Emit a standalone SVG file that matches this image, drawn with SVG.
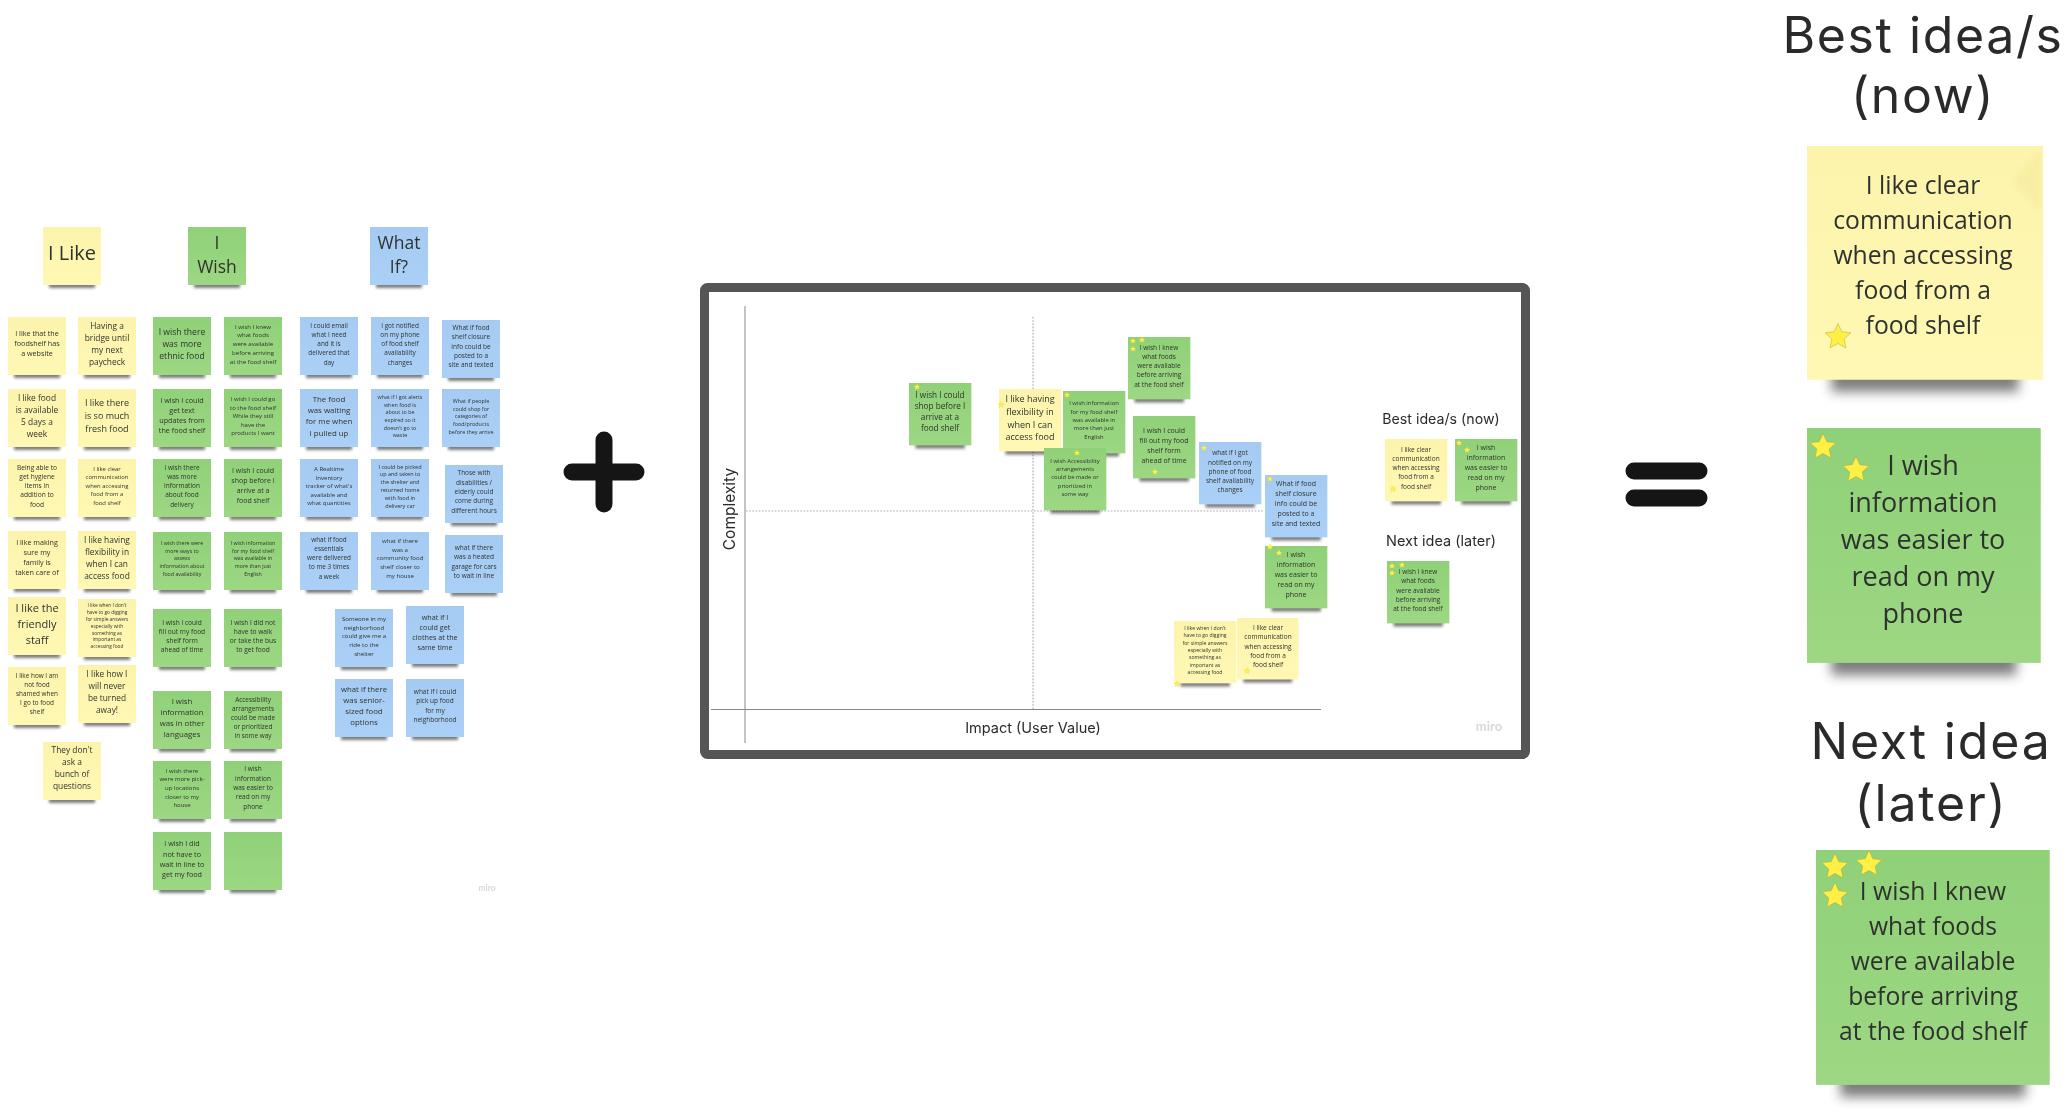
<svg xmlns="http://www.w3.org/2000/svg" width="2070" height="1114" viewBox="0 0 2070 1114">
<style>
text{font-family:"Open Sans","Liberation Sans",sans-serif;fill:#2f332f;text-anchor:middle}
.s{filter:url(#soft)}
.h{font-family:Inter,"Liberation Sans",sans-serif;fill:#2b2b2b;filter:url(#soft)}
.m{font-family:Lato,"Liberation Sans",sans-serif;font-weight:700;fill:#d8d8d8;filter:url(#soft)}
.sh{fill:#2e2e2e;opacity:.62;filter:url(#sb)}
.ax{stroke:#888;stroke-width:1;fill:none}
.dot{stroke:#a9a9b4;stroke-width:1.2;stroke-dasharray:1.6 1.6;fill:none}
.st{fill:#FFF045;stroke:#B5A63C;stroke-width:.15}
.sym{stroke:#151515;stroke-width:17;stroke-linecap:round;fill:none}
</style>
<defs>
<filter id="sb" x="-20%" y="-120%" width="140%" height="340%"><feGaussianBlur stdDeviation="1.5"/></filter>
<filter id="soft" x="-5%" y="-5%" width="110%" height="110%"><feGaussianBlur stdDeviation="0.3"/></filter>
<filter id="fold" x="-30%" y="-30%" width="160%" height="160%"><feGaussianBlur stdDeviation="3"/></filter>
<clipPath id="bigy"><rect width="236" height="234"/></clipPath>
<linearGradient id="gy" x1="0" y1="0" x2="0" y2="1"><stop offset="0" stop-color="#FCF4AC"/><stop offset="1" stop-color="#FFF8B4"/></linearGradient>
<linearGradient id="gg" x1="0" y1="0" x2="0" y2="1"><stop offset="0" stop-color="#8FD178"/><stop offset="1" stop-color="#9DD783"/></linearGradient>
<linearGradient id="gb" x1="0" y1="0" x2="0" y2="1"><stop offset="0" stop-color="#A5CBF3"/><stop offset="1" stop-color="#ABD0F7"/></linearGradient>
<g id="sy"><rect class="sh" x="6" y="54" width="46" height="7"/><rect width="58" height="58" fill="url(#gy)"/></g>
<g id="sg"><rect class="sh" x="6" y="54" width="46" height="7"/><rect width="58" height="58" fill="url(#gg)"/></g>
<g id="sb2"><rect class="sh" x="6" y="54" width="46" height="7"/><rect width="58" height="58" fill="url(#gb)"/></g>
<polygon id="star" class="st" points="0,-4 1.12,-1.54 3.8,-1.24 1.81,.59 2.35,3.24 0,1.9 -2.35,3.24 -1.81,.59 -3.8,-1.24 -1.12,-1.54"/>
</defs>
<rect width="2070" height="1114" fill="#fff"/>

<g id="like-head" transform="translate(43 227)"><use href="#sy"/><text class="s" x="29" y="33" font-size="20">I Like</text></g>
<g id="wish-head" transform="translate(188 227)"><use href="#sg"/><text class="s" x="29" y="22" font-size="17.5"><tspan x="29">I</tspan><tspan x="29" dy="23.5">Wish</tspan></text></g>
<g id="whatif-head" transform="translate(370 227)"><use href="#sb2"/><text class="s" x="29" y="22" font-size="17.5"><tspan x="29">What</tspan><tspan x="29" dy="23.5">If?</tspan></text></g>

<g id="like-1" transform="translate(8 317)"><use href="#sy"/><text class="s" y="19.4" font-size="7.2"><tspan x="29">I like that the</tspan><tspan x="29" dy="10">foodshelf has</tspan><tspan x="29" dy="10">a website</tspan></text></g>
<g id="like-2" transform="translate(78 317)"><use href="#sy"/><text class="s" y="11.8" font-size="8.4"><tspan x="29">Having a</tspan><tspan x="29" dy="12">bridge until</tspan><tspan x="29" dy="12">my next</tspan><tspan x="29" dy="12">paycheck</tspan></text></g>
<g id="like-3" transform="translate(8 389)"><use href="#sy"/><text class="s" y="11.5" font-size="8.4"><tspan x="29">I like food</tspan><tspan x="29" dy="12">is available</tspan><tspan x="29" dy="12">5 days a</tspan><tspan x="29" dy="12">week</tspan></text></g>
<g id="like-4" transform="translate(78 389)"><use href="#sy"/><text class="s" y="17.3" font-size="9"><tspan x="29">I like there</tspan><tspan x="29" dy="12.7">is so much</tspan><tspan x="29" dy="12.7">fresh food</tspan></text></g>
<g id="like-5" transform="translate(8 459)"><use href="#sy"/><text class="s" y="10.5" font-size="6.6"><tspan x="29">Being able to</tspan><tspan x="29" dy="9.3">get hygiene</tspan><tspan x="29" dy="9.3">items in</tspan><tspan x="29" dy="9.3">addition to</tspan><tspan x="29" dy="9.3">food</tspan></text></g>
<g id="like-6" transform="translate(78 459)"><use href="#sy"/><text class="s" y="12" font-size="5.9"><tspan x="29">I like clear</tspan><tspan x="29" dy="8.4">communication</tspan><tspan x="29" dy="8.4">when accessing</tspan><tspan x="29" dy="8.4">food from a</tspan><tspan x="29" dy="8.4">food shelf</tspan></text></g>
<g id="like-7" transform="translate(8 531)"><use href="#sy"/><text class="s" y="14.4" font-size="7.2"><tspan x="29">I like making</tspan><tspan x="29" dy="10">sure my</tspan><tspan x="29" dy="10">family is</tspan><tspan x="29" dy="10">taken care of</tspan></text></g>
<g id="like-8" transform="translate(78 531)"><use href="#sy"/><text class="s" y="12.1" font-size="8.4"><tspan x="29">I like having</tspan><tspan x="29" dy="12">flexibility in</tspan><tspan x="29" dy="12">when I can</tspan><tspan x="29" dy="12">access food</tspan></text></g>
<g id="like-9" transform="translate(8 597)"><use href="#sy"/><text class="s" y="15" font-size="11"><tspan x="29">I like the</tspan><tspan x="29" dy="15.8">friendly</tspan><tspan x="29" dy="15.8">staff</tspan></text></g>
<g id="like-10" transform="translate(78 599)"><use href="#sy"/><text class="s" y="8.3" font-size="4.8"><tspan x="29">I like when I don't</tspan><tspan x="29" dy="6.8">have to go digging</tspan><tspan x="29" dy="6.8">for simple answers</tspan><tspan x="29" dy="6.8">especially with</tspan><tspan x="29" dy="6.8">something as</tspan><tspan x="29" dy="6.8">important as</tspan><tspan x="29" dy="6.8">accessing food</tspan></text></g>
<g id="like-11" transform="translate(8 667)"><use href="#sy"/><text class="s" y="11.1" font-size="6.4"><tspan x="29">I like how I am</tspan><tspan x="29" dy="9">not food</tspan><tspan x="29" dy="9">shamed when</tspan><tspan x="29" dy="9">I go to food</tspan><tspan x="29" dy="9">shelf</tspan></text></g>
<g id="like-12" transform="translate(78 665)"><use href="#sy"/><text class="s" y="12.1" font-size="8.3"><tspan x="29">I like how I</tspan><tspan x="29" dy="11.8">will never</tspan><tspan x="29" dy="11.8">be turned</tspan><tspan x="29" dy="11.8">away!</tspan></text></g>
<g id="like-13" transform="translate(43 742)"><use href="#sy"/><text class="s" y="11.1" font-size="8.4"><tspan x="29">They don't</tspan><tspan x="29" dy="12">ask a</tspan><tspan x="29" dy="12">bunch of</tspan><tspan x="29" dy="12">questions</tspan></text></g>

<g id="wish-1" transform="translate(153 317)"><use href="#sg"/><text class="s" y="17.8" font-size="8.6"><tspan x="29">I wish there</tspan><tspan x="29" dy="12">was more</tspan><tspan x="29" dy="12">ethnic food</tspan></text></g>
<g id="wish-2" transform="translate(224 317)"><use href="#sg"/><text class="s" y="11.7" font-size="6.1"><tspan x="29">I wish I knew</tspan><tspan x="29" dy="8.7">what foods</tspan><tspan x="29" dy="8.7">were available</tspan><tspan x="29" dy="8.7">before arriving</tspan><tspan x="29" dy="8.7">at the food shelf</tspan></text></g>
<g id="wish-3" transform="translate(153 389)"><use href="#sg"/><text class="s" y="14.1" font-size="7.2"><tspan x="29">I wish I could</tspan><tspan x="29" dy="10">get text</tspan><tspan x="29" dy="10">updates from</tspan><tspan x="29" dy="10">the food shelf</tspan></text></g>
<g id="wish-4" transform="translate(224 389)"><use href="#sg"/><text class="s" y="12" font-size="6"><tspan x="29">I wish I could go</tspan><tspan x="29" dy="8.6">to the food shelf</tspan><tspan x="29" dy="8.6">While they still</tspan><tspan x="29" dy="8.6">have the</tspan><tspan x="29" dy="8.6">products I want</tspan></text></g>
<g id="wish-5" transform="translate(153 459)"><use href="#sg"/><text class="s" y="10.8" font-size="6.5"><tspan x="29">I wish there</tspan><tspan x="29" dy="9.2">was more</tspan><tspan x="29" dy="9.2">information</tspan><tspan x="29" dy="9.2">about food</tspan><tspan x="29" dy="9.2">delivery</tspan></text></g>
<g id="wish-6" transform="translate(224 459)"><use href="#sg"/><text class="s" y="14.3" font-size="7"><tspan x="29">I wish I could</tspan><tspan x="29" dy="10">shop before I</tspan><tspan x="29" dy="10">arrive at a</tspan><tspan x="29" dy="10">food shelf</tspan></text></g>
<g id="wish-7" transform="translate(153 532)"><use href="#sg"/><text class="s" y="13.1" font-size="5.3"><tspan x="29">I wish there were</tspan><tspan x="29" dy="7.6">more ways to</tspan><tspan x="29" dy="7.6">assess</tspan><tspan x="29" dy="7.6">information about</tspan><tspan x="29" dy="7.6">food availability</tspan></text></g>
<g id="wish-8" transform="translate(224 532)"><use href="#sg"/><text class="s" y="13.1" font-size="5.3"><tspan x="29">I wish information</tspan><tspan x="29" dy="7.6">for my food shelf</tspan><tspan x="29" dy="7.6">was available in</tspan><tspan x="29" dy="7.6">more than just</tspan><tspan x="29" dy="7.6">English</tspan></text></g>
<g id="wish-9" transform="translate(153 609)"><use href="#sg"/><text class="s" y="15.5" font-size="6.6"><tspan x="29">I wish I could</tspan><tspan x="29" dy="9.2">fill out my food</tspan><tspan x="29" dy="9.2">shelf form</tspan><tspan x="29" dy="9.2">ahead of time</tspan></text></g>
<g id="wish-10" transform="translate(224 609)"><use href="#sg"/><text class="s" y="15.5" font-size="6.6"><tspan x="29">I wish I did not</tspan><tspan x="29" dy="9.2">have to walk</tspan><tspan x="29" dy="9.2">or take the bus</tspan><tspan x="29" dy="9.2">to get food</tspan></text></g>
<g id="wish-11" transform="translate(153 691)"><use href="#sg"/><text class="s" y="12.6" font-size="7.8"><tspan x="29">I wish</tspan><tspan x="29" dy="11">information</tspan><tspan x="29" dy="11">was in other</tspan><tspan x="29" dy="11">languages</tspan></text></g>
<g id="wish-12" transform="translate(224 691)"><use href="#sg"/><text class="s" y="10.8" font-size="6.4"><tspan x="29">Accessibility</tspan><tspan x="29" dy="9">arrangements</tspan><tspan x="29" dy="9">could be made</tspan><tspan x="29" dy="9">or prioritized</tspan><tspan x="29" dy="9">in some way</tspan></text></g>
<g id="wish-13" transform="translate(153 761)"><use href="#sg"/><text class="s" y="11.7" font-size="6"><tspan x="29">I wish there</tspan><tspan x="29" dy="8.6">were more pick-</tspan><tspan x="29" dy="8.6">up locations</tspan><tspan x="29" dy="8.6">closer to my</tspan><tspan x="29" dy="8.6">house</tspan></text></g>
<g id="wish-14" transform="translate(224 761)"><use href="#sg"/><text class="s" y="10.4" font-size="6.5"><tspan x="29">I wish</tspan><tspan x="29" dy="9.3">information</tspan><tspan x="29" dy="9.3">was easier to</tspan><tspan x="29" dy="9.3">read on my</tspan><tspan x="29" dy="9.3">phone</tspan></text></g>
<g id="wish-15" transform="translate(153 832)"><use href="#sg"/><text class="s" y="14.4" font-size="7.2"><tspan x="29">I wish I did</tspan><tspan x="29" dy="10.3">not have to</tspan><tspan x="29" dy="10.3">wait in line to</tspan><tspan x="29" dy="10.3">get my food</tspan></text></g>
<g id="wish-16" transform="translate(224 832)"><use href="#sg"/></g>

<g id="whatif-1" transform="translate(300 317)"><use href="#sb2"/><text class="s" y="11.1" font-size="6.4"><tspan x="29">I could email</tspan><tspan x="29" dy="9.1">what I need</tspan><tspan x="29" dy="9.1">and it is</tspan><tspan x="29" dy="9.1">delivered that</tspan><tspan x="29" dy="9.1">day</tspan></text></g>
<g id="whatif-2" transform="translate(371 317)"><use href="#sb2"/><text class="s" y="11.1" font-size="6.4"><tspan x="29">I got notified</tspan><tspan x="29" dy="9.1">on my phone</tspan><tspan x="29" dy="9.1">of food shelf</tspan><tspan x="29" dy="9.1">availability</tspan><tspan x="29" dy="9.1">changes</tspan></text></g>
<g id="whatif-3" transform="translate(442 320)"><use href="#sb2"/><text class="s" y="10.1" font-size="6.5"><tspan x="29">What if food</tspan><tspan x="29" dy="9.3">shelf closure</tspan><tspan x="29" dy="9.3">info could be</tspan><tspan x="29" dy="9.3">posted to a</tspan><tspan x="29" dy="9.3">site and texted</tspan></text></g>
<g id="whatif-4" transform="translate(300 389)"><use href="#sb2"/><text class="s" y="12.9" font-size="7.9"><tspan x="29">The food</tspan><tspan x="29" dy="11.2">was waiting</tspan><tspan x="29" dy="11.2">for me when</tspan><tspan x="29" dy="11.2">I pulled up</tspan></text></g>
<g id="whatif-5" transform="translate(371 389)"><use href="#sb2"/><text class="s" y="9.8" font-size="5.4"><tspan x="29">what if I got alerts</tspan><tspan x="29" dy="7.7">when food is</tspan><tspan x="29" dy="7.7">about to be</tspan><tspan x="29" dy="7.7">expired so it</tspan><tspan x="29" dy="7.7">doesn't go to</tspan><tspan x="29" dy="7.7">waste</tspan></text></g>
<g id="whatif-6" transform="translate(442 389)"><use href="#sb2"/><text class="s" y="13.8" font-size="5.4"><tspan x="29">What if people</tspan><tspan x="29" dy="7.7">could shop for</tspan><tspan x="29" dy="7.7">categories of</tspan><tspan x="29" dy="7.7">food/products</tspan><tspan x="29" dy="7.7">before they arrive</tspan></text></g>
<g id="whatif-7" transform="translate(300 459)"><use href="#sb2"/><text class="s" y="12" font-size="6"><tspan x="29">A Realtime</tspan><tspan x="29" dy="8.6">Inventory</tspan><tspan x="29" dy="8.6">tracker of what's</tspan><tspan x="29" dy="8.6">available and</tspan><tspan x="29" dy="8.6">what quantities</tspan></text></g>
<g id="whatif-8" transform="translate(371 459)"><use href="#sb2"/><text class="s" y="9.5" font-size="5.5"><tspan x="29">I could be picked</tspan><tspan x="29" dy="7.8">up and taken to</tspan><tspan x="29" dy="7.8">the shelter and</tspan><tspan x="29" dy="7.8">returned home</tspan><tspan x="29" dy="7.8">with food in</tspan><tspan x="29" dy="7.8">delivery car</tspan></text></g>
<g id="whatif-9" transform="translate(445 465)"><use href="#sb2"/><text class="s" y="10.4" font-size="6.5"><tspan x="29">Those with</tspan><tspan x="29" dy="9.3">disabilities /</tspan><tspan x="29" dy="9.3">elderly could</tspan><tspan x="29" dy="9.3">come during</tspan><tspan x="29" dy="9.3">different hours</tspan></text></g>
<g id="whatif-10" transform="translate(300 532)"><use href="#sb2"/><text class="s" y="10.1" font-size="6.4"><tspan x="29">what if food</tspan><tspan x="29" dy="9.1">essentials</tspan><tspan x="29" dy="9.1">were delivered</tspan><tspan x="29" dy="9.1">to me 3 times</tspan><tspan x="29" dy="9.1">a week</tspan></text></g>
<g id="whatif-11" transform="translate(371 532)"><use href="#sb2"/><text class="s" y="11" font-size="6.1"><tspan x="29">what if there</tspan><tspan x="29" dy="8.7">was a</tspan><tspan x="29" dy="8.7">community food</tspan><tspan x="29" dy="8.7">shelf closer to</tspan><tspan x="29" dy="8.7">my house</tspan></text></g>
<g id="whatif-12" transform="translate(445 535)"><use href="#sb2"/><text class="s" y="15.1" font-size="6.5"><tspan x="29">what if there</tspan><tspan x="29" dy="9.3">was a heated</tspan><tspan x="29" dy="9.3">garage for cars</tspan><tspan x="29" dy="9.3">to wait in line</tspan></text></g>
<g id="whatif-13" transform="translate(335 609)"><use href="#sb2"/><text class="s" y="12" font-size="6.1"><tspan x="29">Someone in my</tspan><tspan x="29" dy="8.7">neighborhood</tspan><tspan x="29" dy="8.7">could give me a</tspan><tspan x="29" dy="8.7">ride to the</tspan><tspan x="29" dy="8.7">shelter</tspan></text></g>
<g id="whatif-14" transform="translate(406 606)"><use href="#sb2"/><text class="s" y="13.7" font-size="7.2"><tspan x="29">what if I</tspan><tspan x="29" dy="10.2">could get</tspan><tspan x="29" dy="10.2">clothes at the</tspan><tspan x="29" dy="10.2">same time</tspan></text></g>
<g id="whatif-15" transform="translate(335 679)"><use href="#sb2"/><text class="s" y="12.9" font-size="7.8"><tspan x="29">what if there</tspan><tspan x="29" dy="11.1">was senior-</tspan><tspan x="29" dy="11.1">sized food</tspan><tspan x="29" dy="11.1">options</tspan></text></g>
<g id="whatif-16" transform="translate(406 679)"><use href="#sb2"/><text class="s" y="15.1" font-size="6.5"><tspan x="29">what if I could</tspan><tspan x="29" dy="9.3">pick up food</tspan><tspan x="29" dy="9.3">for my</tspan><tspan x="29" dy="9.3">neighborhood</tspan></text></g>
<text id="miro-left" class="m" x="487" y="891" font-size="8.5">miro</text>

<g id="plus"><path class="sym" d="M572 472H636M604 440V504"/></g>

<g id="frame">
<rect x="704.5" y="287.5" width="821" height="467" rx="3" fill="#fff" stroke="#555" stroke-width="9"/>
<text class="m" x="1489" y="731" font-size="13">miro</text>
</g>
<g id="connectors">
<path class="ax" d="M745 306V743"/>
<path class="ax" stroke-width="1.5" d="M711 709.5H1321"/>
<path class="dot" d="M1033 317V709"/>
<path class="dot" d="M746 511H1264"/>
</g>
<g id="axis-labels">
<text class="h" transform="translate(735 509) rotate(-90)" font-size="15.5">Complexity</text>
<text class="h" x="1033" y="733" font-size="14.5">Impact (User Value)</text>
<text class="h" x="1441" y="424" font-size="14.2">Best idea/s (now)</text>
<text class="h" x="1441" y="546" font-size="14.5">Next idea (later)</text>
</g>

<g id="m-info" transform="translate(1063 391)"><use href="#sg" transform="scale(1.075)"/><use href="#star" transform="translate(4 4) scale(.85)"/><text class="s" y="14.2" font-size="5.9"><tspan x="31">I wish information</tspan><tspan x="31" dy="8.4">for my food shelf</tspan><tspan x="31" dy="8.4">was available in</tspan><tspan x="31" dy="8.4">more than just</tspan><tspan x="31" dy="8.4">English</tspan></text></g>
<g id="m-shop" transform="translate(909 383)"><use href="#sg" transform="scale(1.075)"/><use href="#star" transform="translate(8 4) scale(.85)"/><text class="s" y="14.9" font-size="8.2"><tspan x="31">I wish I could</tspan><tspan x="31" dy="11">shop before I</tspan><tspan x="31" dy="11">arrive at a</tspan><tspan x="31" dy="11">food shelf</tspan></text></g>
<g id="m-flex" transform="translate(999 389)"><use href="#sy" transform="scale(1.075)"/><use href="#star" transform="translate(2 16) scale(.85)"/><text class="s" y="13" font-size="9"><tspan x="31">I like having</tspan><tspan x="31" dy="12.8">flexibility in</tspan><tspan x="31" dy="12.8">when I can</tspan><tspan x="31" dy="12.8">access food</tspan></text></g>
<g id="m-access" transform="translate(1044 448)"><use href="#sg" transform="scale(1.075)"/><use href="#star" transform="translate(33 5) scale(.85)"/><text class="s" y="14.9" font-size="5.8"><tspan x="31">I wish Accessibility</tspan><tspan x="31" dy="8.2">arrangements</tspan><tspan x="31" dy="8.2">could be made or</tspan><tspan x="31" dy="8.2">prioritized in</tspan><tspan x="31" dy="8.2">some way</tspan></text></g>
<g id="m-knew" transform="translate(1128 337)"><use href="#sg" transform="scale(1.075)"/><use href="#star" transform="translate(5 4) scale(.85)"/><use href="#star" transform="translate(14 3) scale(.85)"/><use href="#star" transform="translate(5 12) scale(.85)"/><text class="s" y="12.8" font-size="6.5"><tspan x="31">I wish I knew</tspan><tspan x="31" dy="9.2">what foods</tspan><tspan x="31" dy="9.2">were available</tspan><tspan x="31" dy="9.2">before arriving</tspan><tspan x="31" dy="9.2">at the food shelf</tspan></text></g>
<g id="m-fill" transform="translate(1133 416)"><use href="#sg" transform="scale(1.075)"/><use href="#star" transform="translate(22 56) scale(.85)"/><text class="s" y="17" font-size="7"><tspan x="31">I wish I could</tspan><tspan x="31" dy="9.9">fill out my food</tspan><tspan x="31" dy="9.9">shelf form</tspan><tspan x="31" dy="9.9">ahead of time</tspan></text></g>
<g id="m-notif" transform="translate(1199 442)"><use href="#sb2" transform="scale(1.075)"/><use href="#star" transform="translate(5 6) scale(.85)"/><text class="s" y="13.4" font-size="6.5"><tspan x="31">what if I got</tspan><tspan x="31" dy="9.2">notified on my</tspan><tspan x="31" dy="9.2">phone of food</tspan><tspan x="31" dy="9.2">shelf availability</tspan><tspan x="31" dy="9.2">changes</tspan></text></g>
<g id="m-closure" transform="translate(1265 475)"><use href="#sb2" transform="scale(1.075)"/><use href="#star" transform="translate(5 4) scale(.85)"/><text class="s" y="11.3" font-size="7"><tspan x="31">What if food</tspan><tspan x="31" dy="9.9">shelf closure</tspan><tspan x="31" dy="9.9">info could be</tspan><tspan x="31" dy="9.9">posted to a</tspan><tspan x="31" dy="9.9">site and texted</tspan></text></g>
<g id="m-easier" transform="translate(1265 546)"><use href="#sg" transform="scale(1.075)"/><use href="#star" transform="translate(5 1) scale(.85)"/><use href="#star" transform="translate(14 7) scale(.85)"/><text class="s" y="11" font-size="7"><tspan x="31">I wish</tspan><tspan x="31" dy="10">information</tspan><tspan x="31" dy="10">was easier to</tspan><tspan x="31" dy="10">read on my</tspan><tspan x="31" dy="10">phone</tspan></text></g>
<g id="m-dont" transform="translate(1174 621)"><use href="#sy" transform="scale(1.075)"/><use href="#star" transform="translate(3 63) scale(.85)"/><text class="s" y="9" font-size="5.1"><tspan x="31">I like when I don't</tspan><tspan x="31" dy="7.3">have to go digging</tspan><tspan x="31" dy="7.3">for simple answers</tspan><tspan x="31" dy="7.3">especially with</tspan><tspan x="31" dy="7.3">something as</tspan><tspan x="31" dy="7.3">important as</tspan><tspan x="31" dy="7.3">accessing food</tspan></text></g>
<g id="m-clear" transform="translate(1237 618)"><use href="#sy" transform="scale(1.06)"/><use href="#star" transform="translate(10 53) scale(.85)"/><text class="s" y="12.1" font-size="6.5"><tspan x="31">I like clear</tspan><tspan x="31" dy="9.2">communication</tspan><tspan x="31" dy="9.2">when accessing</tspan><tspan x="31" dy="9.2">food from a</tspan><tspan x="31" dy="9.2">food shelf</tspan></text></g>
<g id="b-clear" transform="translate(1385 439)"><use href="#sy" transform="scale(1.075)"/><use href="#star" transform="translate(8 50) scale(.85)"/><text class="s" y="12.8" font-size="6.5"><tspan x="31">I like clear</tspan><tspan x="31" dy="9.2">communication</tspan><tspan x="31" dy="9.2">when accessing</tspan><tspan x="31" dy="9.2">food from a</tspan><tspan x="31" dy="9.2">food shelf</tspan></text></g>
<g id="b-easier" transform="translate(1455 439)"><use href="#sg" transform="scale(1.075)"/><use href="#star" transform="translate(4 4) scale(.85)"/><use href="#star" transform="translate(12 11) scale(.85)"/><text class="s" y="11.3" font-size="7"><tspan x="31">I wish</tspan><tspan x="31" dy="10">information</tspan><tspan x="31" dy="10">was easier to</tspan><tspan x="31" dy="10">read on my</tspan><tspan x="31" dy="10">phone</tspan></text></g>
<g id="n-knew" transform="translate(1387 561)"><use href="#sg" transform="scale(1.075)"/><use href="#star" transform="translate(5 5) scale(.85)"/><use href="#star" transform="translate(15 4) scale(.85)"/><use href="#star" transform="translate(5 12) scale(.85)"/><text class="s" y="13.1" font-size="6.5"><tspan x="31">I wish I knew</tspan><tspan x="31" dy="9.2">what foods</tspan><tspan x="31" dy="9.2">were available</tspan><tspan x="31" dy="9.2">before arriving</tspan><tspan x="31" dy="9.2">at the food shelf</tspan></text></g>

<g id="equals"><path class="sym" d="M1634 471H1699M1634 498H1699"/></g>

<text class="h" x="1923" y="53" font-size="50" letter-spacing="1.6">Best idea/s</text>
<text class="h" x="1923" y="113" font-size="50" letter-spacing="1.6">(now)</text>
<text class="h" x="1931" y="759" font-size="50" letter-spacing="1.8">Next idea</text>
<text class="h" x="1931" y="821" font-size="50" letter-spacing="1.8">(later)</text>

<g id="big-clear" transform="translate(1807 146)"><use href="#sy" transform="scale(4.07 4.03)"/><g clip-path="url(#bigy)"><path d="M234 3L205 35L234 67Z" fill="#F6EC9E" opacity=".7" filter="url(#fold)"/></g><use href="#star" transform="translate(31 191) scale(3.4)"/><text class="s" y="48" font-size="24.7"><tspan x="116">I like clear</tspan><tspan x="116" dy="35">communication</tspan><tspan x="116" dy="35">when accessing</tspan><tspan x="116" dy="35">food from a</tspan><tspan x="116" dy="35">food shelf</tspan></text></g>
<g id="big-easier" transform="translate(1807 428)"><use href="#sg" transform="scale(4.03 4.05)"/><use href="#star" transform="translate(16 19) scale(3.4)"/><use href="#star" transform="translate(49 42) scale(3.4)"/><text class="s" y="46.6" font-size="27"><tspan x="116">I wish</tspan><tspan x="116" dy="37">information</tspan><tspan x="116" dy="37">was easier to</tspan><tspan x="116" dy="37">read on my</tspan><tspan x="116" dy="37">phone</tspan></text></g>
<g id="big-knew" transform="translate(1816 850)"><use href="#sg" transform="scale(4.03 4.05)"/><use href="#star" transform="translate(19 17) scale(3.4)"/><use href="#star" transform="translate(53 14) scale(3.4)"/><use href="#star" transform="translate(19 46) scale(3.4)"/><text class="s" y="50" font-size="24.7"><tspan x="117">I wish I knew</tspan><tspan x="117" dy="35">what foods</tspan><tspan x="117" dy="35">were available</tspan><tspan x="117" dy="35">before arriving</tspan><tspan x="117" dy="35">at the food shelf</tspan></text></g>
</svg>
